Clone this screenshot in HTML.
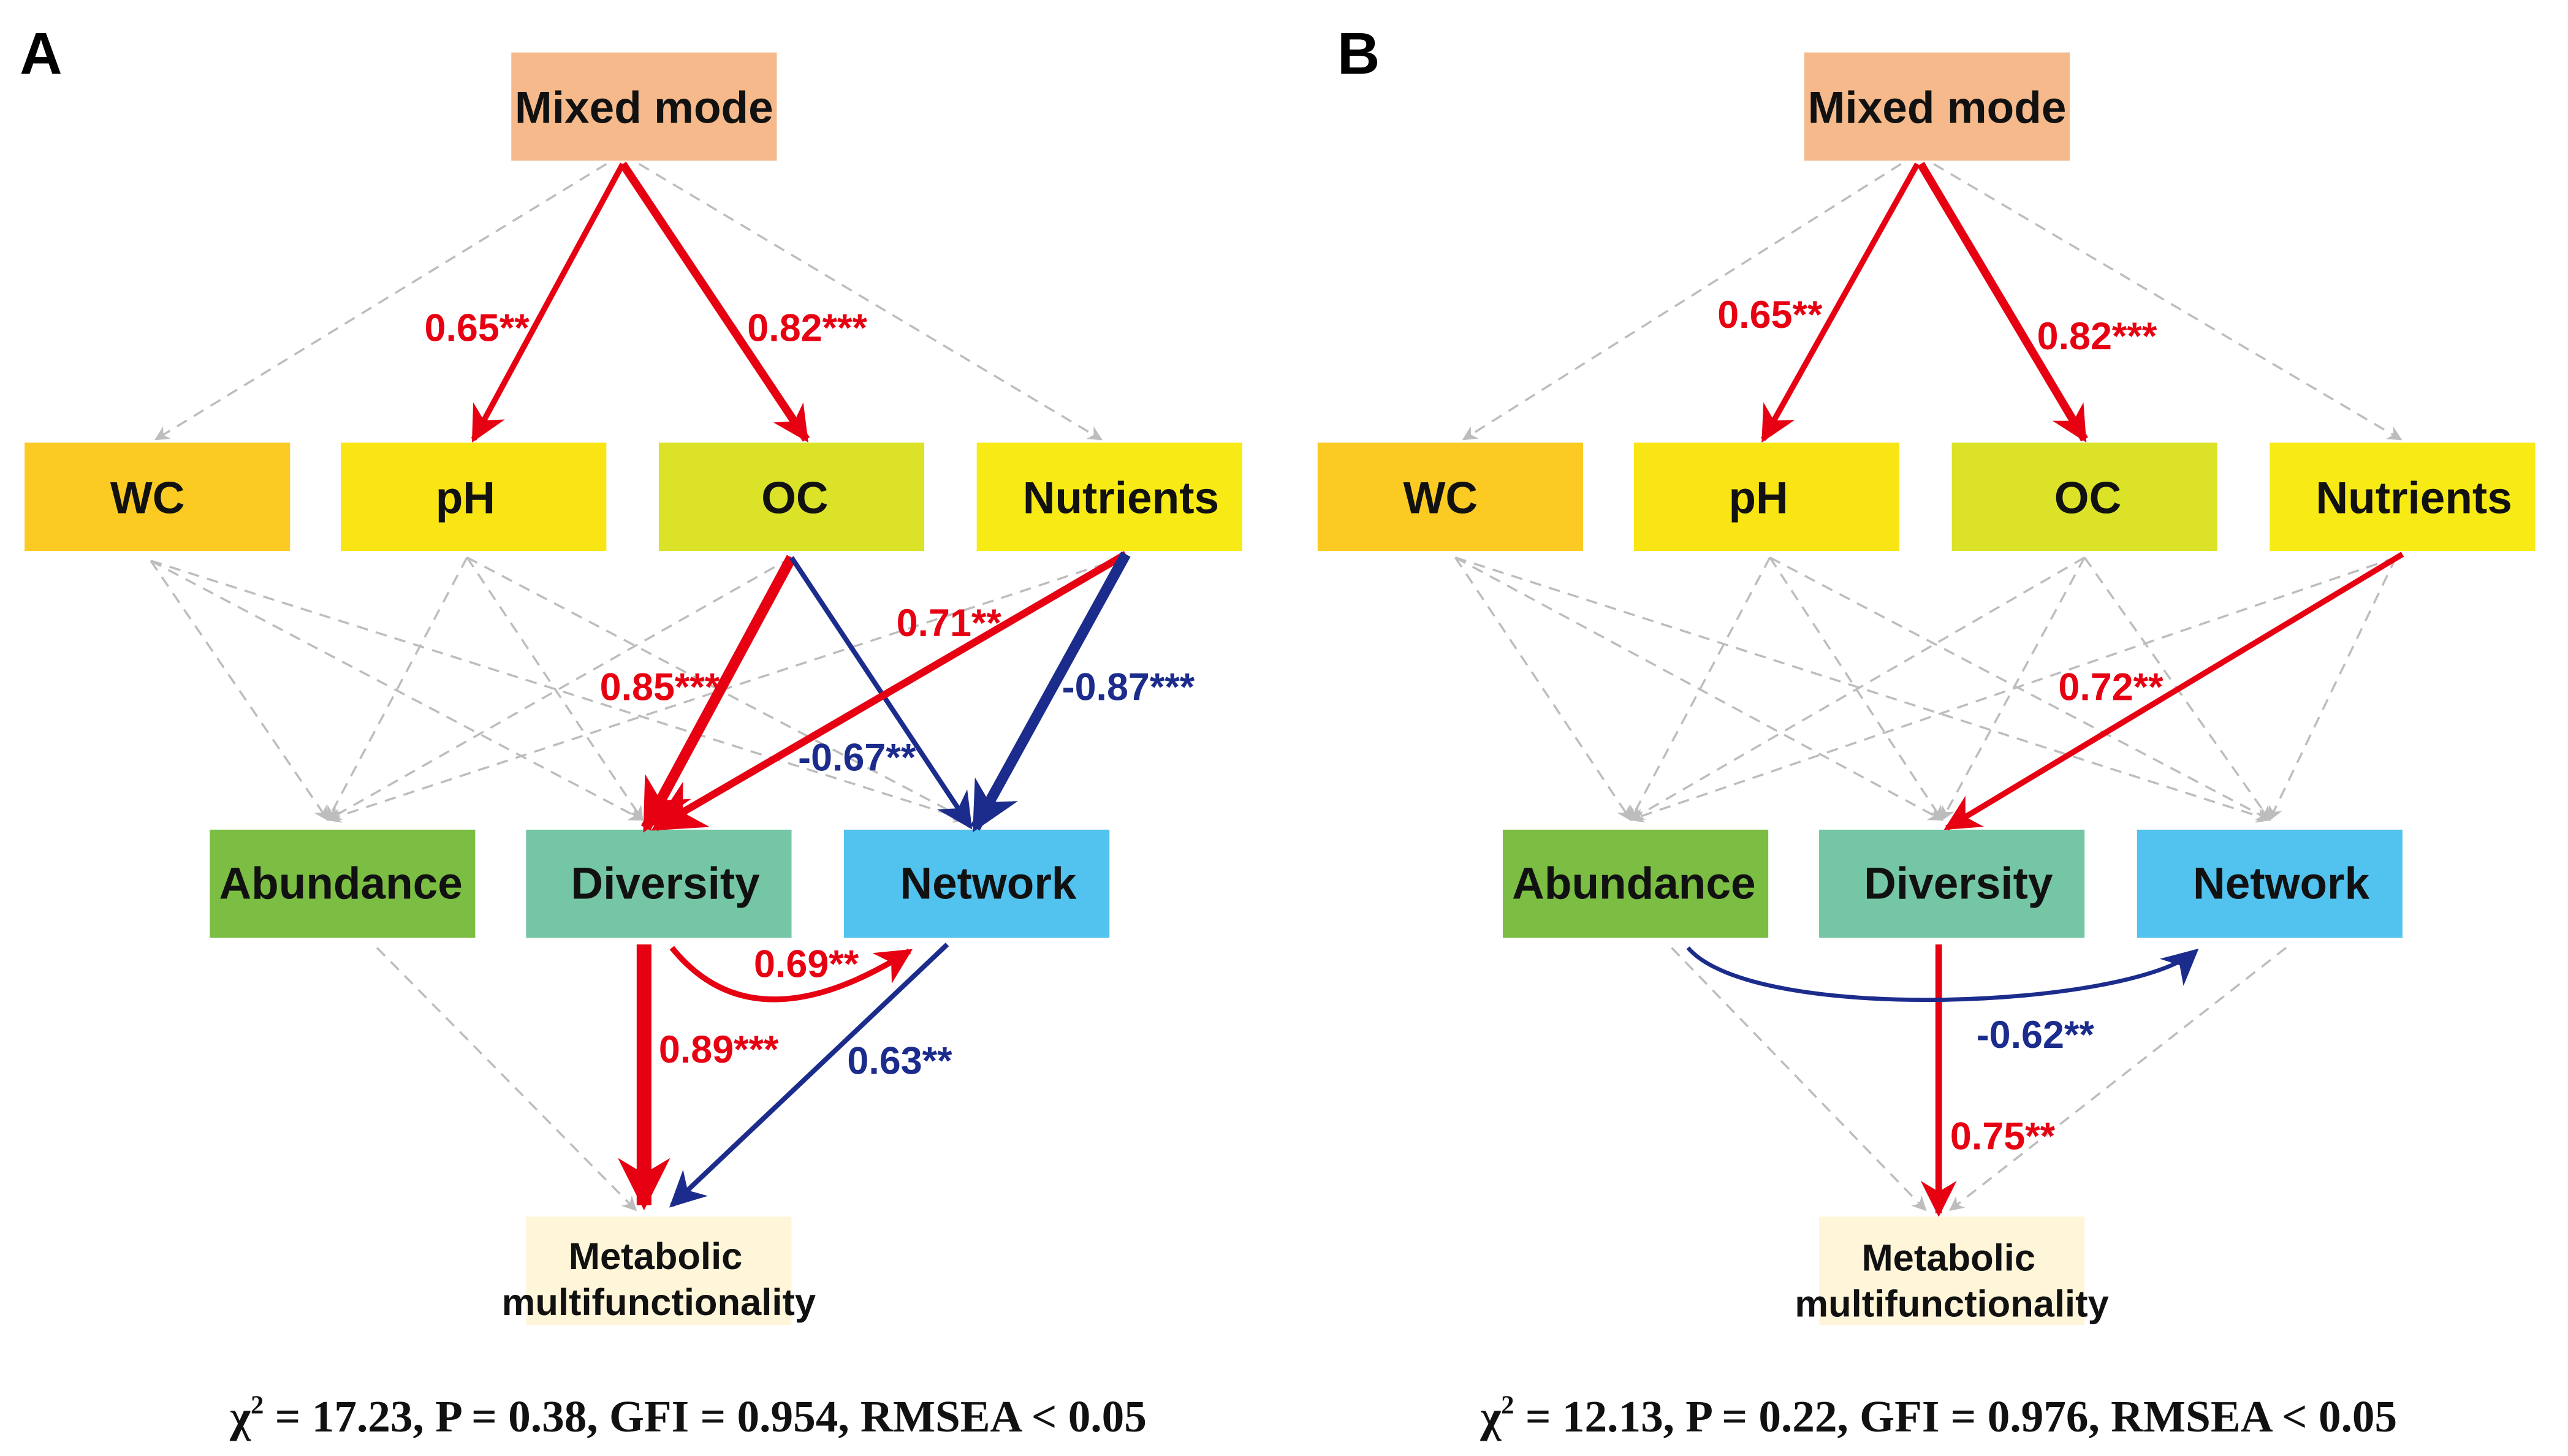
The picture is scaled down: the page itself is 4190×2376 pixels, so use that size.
<!DOCTYPE html>
<html><head><meta charset="utf-8"><style>
html,body{margin:0;padding:0;background:#fff;}
svg{display:block;}
.bx{font-family:"Liberation Sans",sans-serif;font-weight:bold;font-size:27.3px;fill:#111;text-anchor:middle;}
.mt{font-size:23px;}
.lb{font-family:"Liberation Sans",sans-serif;font-weight:bold;font-size:23.5px;}
.r{fill:#E60012;} .b{fill:#1B2C8C;}
.cap{font-family:"Liberation Serif",serif;font-weight:bold;font-size:27.4px;fill:#111;text-anchor:middle;}
.d{stroke:#BDBDBD;stroke-width:1.3;stroke-dasharray:7,5;fill:none;marker-end:url(#g);}
</style></head><body>
<svg width="4190" height="2376" viewBox="0 0 1567 888" preserveAspectRatio="none" xmlns="http://www.w3.org/2000/svg">
<defs>
<marker id="g" viewBox="0 0 10 10" refX="9" refY="5" markerWidth="9" markerHeight="9" markerUnits="userSpaceOnUse" orient="auto"><path d="M0,0 L10,5 L0,10 L3,5z" fill="#BDBDBD"/></marker>
<marker id="rs" viewBox="0 0 10 10" refX="9" refY="5" markerWidth="22" markerHeight="22" markerUnits="userSpaceOnUse" orient="auto"><path d="M0,0 L10,5 L0,10 L3,5z" fill="#E60012"/></marker>
<marker id="rl" viewBox="0 0 10 10" refX="9" refY="5" markerWidth="32" markerHeight="32" markerUnits="userSpaceOnUse" orient="auto"><path d="M0,0 L10,5 L0,10 L3,5z" fill="#E60012"/></marker>
<marker id="bs" viewBox="0 0 10 10" refX="9" refY="5" markerWidth="22" markerHeight="22" markerUnits="userSpaceOnUse" orient="auto"><path d="M0,0 L10,5 L0,10 L3,5z" fill="#1B2C8C"/></marker>
<marker id="bl" viewBox="0 0 10 10" refX="9" refY="5" markerWidth="30" markerHeight="30" markerUnits="userSpaceOnUse" orient="auto"><path d="M0,0 L10,5 L0,10 L3,5z" fill="#1B2C8C"/></marker>
</defs>

<!-- ===== Panel A ===== -->
<text x="12" y="45" font-family="Liberation Sans,sans-serif" font-weight="bold" font-size="36">A</text>
<line class="d" x1="370" y1="100" x2="95" y2="268"/>
<line class="d" x1="390" y1="100" x2="672" y2="268"/>
<line class="d" x1="92" y1="342" x2="200" y2="500"/>
<line class="d" x1="92" y1="342" x2="392" y2="500"/>
<line class="d" x1="92" y1="342" x2="590" y2="500"/>
<line class="d" x1="285" y1="340" x2="200" y2="500"/>
<line class="d" x1="285" y1="340" x2="392" y2="500"/>
<line class="d" x1="285" y1="340" x2="590" y2="500"/>
<line class="d" x1="483" y1="340" x2="200" y2="500"/>
<line class="d" x1="686" y1="340" x2="200" y2="500"/>
<line class="d" x1="230" y1="578" x2="388" y2="738"/>
<rect x="312" y="32" width="162" height="66" fill="#F5B98B"/><text class="bx" x="393" y="75">Mixed mode</text>
<rect x="15" y="270" width="162" height="66" fill="#FBCB23"/><text class="bx" x="90" y="313">WC</text>
<rect x="208" y="270" width="162" height="66" fill="#FAE514"/><text class="bx" x="284" y="313">pH</text>
<rect x="402" y="270" width="162" height="66" fill="#DBE228"/><text class="bx" x="485" y="313">OC</text>
<rect x="596" y="270" width="162" height="66" fill="#F8EB15"/><text class="bx" x="684" y="313">Nutrients</text>
<rect x="128" y="506" width="162" height="66" fill="#7BBE43"/><text class="bx" x="208" y="548">Abundance</text>
<rect x="321" y="506" width="162" height="66" fill="#75C6A5"/><text class="bx" x="406" y="548">Diversity</text>
<rect x="515" y="506" width="162" height="66" fill="#52C2EE"/><text class="bx" x="603" y="548">Network</text>
<rect x="321" y="742" width="162" height="66" fill="#FFF6D9"/>
<text class="bx mt" x="400" y="774">Metabolic</text><text class="bx mt" x="402" y="802">multifunctionality</text>
<line x1="380" y1="100" x2="289" y2="268" stroke="#E60012" stroke-width="3.5" marker-end="url(#rs)"/>
<line x1="380" y1="100" x2="492" y2="268" stroke="#E60012" stroke-width="5" marker-end="url(#rs)"/>
<line x1="483" y1="340" x2="394" y2="505" stroke="#E60012" stroke-width="6.5" marker-end="url(#rl)"/>
<line x1="483" y1="340" x2="592" y2="504" stroke="#1B2C8C" stroke-width="3" marker-end="url(#bs)"/>
<line x1="687" y1="338" x2="400" y2="505" stroke="#E60012" stroke-width="4.5" marker-end="url(#rl)"/>
<line x1="687" y1="338" x2="595" y2="505" stroke="#1B2C8C" stroke-width="6.5" marker-end="url(#bl)"/>
<line x1="393" y1="576" x2="393" y2="735" stroke="#E60012" stroke-width="9" marker-end="url(#rl)"/>
<line x1="578" y1="576" x2="410" y2="735" stroke="#1B2C8C" stroke-width="3" marker-end="url(#bs)"/>
<path d="M410,578 Q460,640 555,580" fill="none" stroke="#E60012" stroke-width="3.5" marker-end="url(#rs)"/>
<text class="lb r" x="259" y="208">0.65**</text>
<text class="lb r" x="456" y="208">0.82***</text>
<text class="lb r" x="366" y="427">0.85***</text>
<text class="lb b" x="487" y="470">-0.67**</text>
<text class="lb r" x="547" y="388">0.71**</text>
<text class="lb b" x="648" y="427">-0.87***</text>
<text class="lb r" x="460" y="596">0.69**</text>
<text class="lb r" x="402" y="648">0.89***</text>
<text class="lb b" x="517" y="655">0.63**</text>
<text class="cap" x="420" y="873">χ<tspan font-size="16" dy="-11">2</tspan><tspan dy="11"> = 17.23, P = 0.38, GFI = 0.954, RMSEA &lt; 0.05</tspan></text>

<!-- ===== Panel B ===== -->
<text x="816" y="45" font-family="Liberation Sans,sans-serif" font-weight="bold" font-size="36">B</text>
<line class="d" x1="1160" y1="100" x2="893" y2="268"/>
<line class="d" x1="1180" y1="100" x2="1465" y2="268"/>
<line class="d" x1="888" y1="340" x2="995" y2="500"/>
<line class="d" x1="888" y1="340" x2="1185" y2="500"/>
<line class="d" x1="888" y1="340" x2="1385" y2="500"/>
<line class="d" x1="1080" y1="340" x2="995" y2="500"/>
<line class="d" x1="1080" y1="340" x2="1185" y2="500"/>
<line class="d" x1="1080" y1="340" x2="1385" y2="500"/>
<line class="d" x1="1272" y1="340" x2="995" y2="500"/>
<line class="d" x1="1272" y1="340" x2="1185" y2="500"/>
<line class="d" x1="1272" y1="340" x2="1385" y2="500"/>
<line class="d" x1="1462" y1="340" x2="995" y2="500"/>
<line class="d" x1="1462" y1="340" x2="1385" y2="500"/>
<line class="d" x1="1020" y1="578" x2="1175" y2="738"/>
<line class="d" x1="1395" y1="578" x2="1190" y2="738"/>
<rect x="1101" y="32" width="162" height="66" fill="#F5B98B"/><text class="bx" x="1182" y="75">Mixed mode</text>
<rect x="804" y="270" width="162" height="66" fill="#FBCB23"/><text class="bx" x="879" y="313">WC</text>
<rect x="997" y="270" width="162" height="66" fill="#FAE514"/><text class="bx" x="1073" y="313">pH</text>
<rect x="1191" y="270" width="162" height="66" fill="#DBE228"/><text class="bx" x="1274" y="313">OC</text>
<rect x="1385" y="270" width="162" height="66" fill="#F8EB15"/><text class="bx" x="1473" y="313">Nutrients</text>
<rect x="917" y="506" width="162" height="66" fill="#7BBE43"/><text class="bx" x="997" y="548">Abundance</text>
<rect x="1110" y="506" width="162" height="66" fill="#75C6A5"/><text class="bx" x="1195" y="548">Diversity</text>
<rect x="1304" y="506" width="162" height="66" fill="#52C2EE"/><text class="bx" x="1392" y="548">Network</text>
<rect x="1110" y="742" width="162" height="66" fill="#FFF6D9"/>
<text class="bx mt" x="1189" y="775">Metabolic</text><text class="bx mt" x="1191" y="803">multifunctionality</text>
<line x1="1170" y1="100" x2="1076" y2="268" stroke="#E60012" stroke-width="3.5" marker-end="url(#rs)"/>
<line x1="1172" y1="100" x2="1272" y2="268" stroke="#E60012" stroke-width="5" marker-end="url(#rs)"/>
<line x1="1466" y1="338" x2="1188" y2="505" stroke="#E60012" stroke-width="3.5" marker-end="url(#rs)"/>
<line x1="1183" y1="576" x2="1183" y2="740" stroke="#E60012" stroke-width="4" marker-end="url(#rs)"/>
<path d="M1030,578 C1070,625 1300,615 1340,580" fill="none" stroke="#1B2C8C" stroke-width="2.5" marker-end="url(#bs)"/>
<text class="lb r" x="1048" y="200">0.65**</text>
<text class="lb r" x="1243" y="213">0.82***</text>
<text class="lb r" x="1256" y="427">0.72**</text>
<text class="lb b" x="1206" y="639">-0.62**</text>
<text class="lb r" x="1190" y="701">0.75**</text>
<text class="cap" x="1183" y="873">χ<tspan font-size="16" dy="-11">2</tspan><tspan dy="11"> = 12.13, P = 0.22, GFI = 0.976, RMSEA &lt; 0.05</tspan></text>
</svg>
</body></html>
